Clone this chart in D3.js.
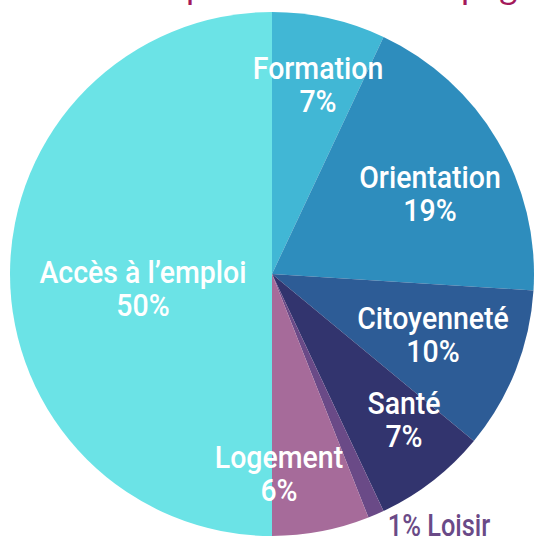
<!DOCTYPE html>
<html>
<head>
<meta charset="utf-8">
<script src="https://d3js.org/d3.v7.min.js"></script>
<style>
  body { margin: 0; background: #fff; }
</style>
</head>
<body>
<svg width="534" height="538"></svg>
<script>
// categories, clockwise from 12 o'clock
var categories = ["Formation", "Orientation", "Citoyenneté", "Santé", "Loisir", "Logement", "Accès à l’emploi"];
var values = [7, 19, 10, 7, 1, 6, 50];
var colors = ["#41b7d5", "#2e8dbd", "#2d5c96", "#32346e", "#6a4a87", "#a66b9a", "#6be3e6"];

var svg = d3.select("svg"),
    cx = 272, cy = 274, r = 262;

var data = categories.map(function(c, i) { return {name: c, value: values[i], color: colors[i]}; });

var pie = d3.pie().sort(null).value(function(d) { return d.value; });
var arc = d3.arc().innerRadius(0).outerRadius(r);

// title, mostly cut off by the top of the picture (only descenders show)
var title = svg.append("text")
    .attr("y", -1)
    .attr("font-family", "Lato, sans-serif")
    .attr("font-size", 35)
    .attr("letter-spacing", 0.6)
    .attr("fill", "#a3195b")
    .text("des personnes accompagnées");
// line the first "p" up with where it sits in the picture
var tnode = title.node();
var ip = tnode.textContent.indexOf("p");
var pMid = tnode.getSubStringLength(0, ip) + tnode.getSubStringLength(ip, 1) / 2;
title.attr("x", 196 - pMid);

var g = svg.append("g").attr("transform", "translate(" + cx + "," + cy + ")");

var arcs = pie(data);

g.selectAll("path")
    .data(arcs)
  .enter().append("path")
    .attr("d", arc)
    .attr("fill", function(d) { return d.data.color; });

// label baseline positions picked by eye, relative to pie centre
var labelPos = {
  "Formation": [46, -195],
  "Orientation": [158, -86],
  "Citoyenneté": [161, 55],
  "Santé": [132, 140],
  "Logement": [7, 194],
  "Accès à l’emploi": [-129, 9]
};

// narrowed Roboto stands in for the condensed face
var squeeze = " scale(0.89,1)";

var lab = g.selectAll("text.lab")
    .data(arcs.filter(function(d) { return labelPos[d.data.name]; }))
  .enter().append("text")
    .attr("class", "lab")
    .attr("text-anchor", "middle")
    .attr("font-family", "Roboto, sans-serif")
    .attr("font-size", 32)
    .attr("font-weight", 500)
    .attr("fill", "#fff")
    .attr("transform", function(d) { var p = labelPos[d.data.name]; return "translate(" + p[0] + "," + p[1] + ")" + squeeze; });

lab.append("tspan").attr("x", 0).attr("dy", 0).text(function(d) { return d.data.name; });
lab.append("tspan").attr("x", 0).attr("dy", 33).text(function(d) { return d.data.value + "%"; });

// the small slice gets an outside label
g.append("text")
    .attr("transform", "translate(167,262) scale(0.82,1)")
    .attr("text-anchor", "middle")
    .attr("font-family", "Roboto, sans-serif")
    .attr("font-size", 31)
    .attr("font-weight", 500)
    .attr("fill", "#6a4a87")
    .text(values[4] + "% " + categories[4]);
</script>
</body>
</html>
